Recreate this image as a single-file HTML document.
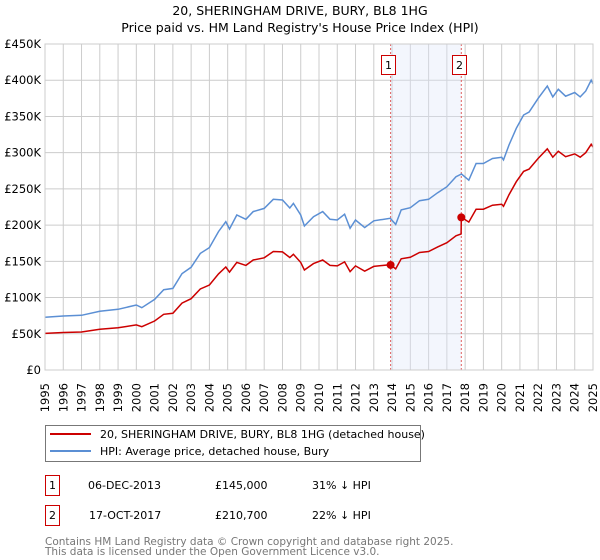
<!DOCTYPE html>
<html><head><meta charset="utf-8"><style>
body{margin:0;background:#fff;}
svg{display:block;font-family:"DejaVu Sans","Liberation Sans",sans-serif;}
</style></head><body>
<svg id="c" width="600" height="560" viewBox="0 0 600 560">
<text x="300" y="15" text-anchor="middle" font-size="12.5" fill="#000">20, SHERINGHAM DRIVE, BURY, BL8 1HG</text>
<text x="300" y="32" text-anchor="middle" font-size="12.5" fill="#000">Price paid vs. HM Land Registry's House Price Index (HPI)</text>
<g id="grid"></g><g id="shade"></g><g id="lines"></g><g id="axes"></g>
<g>
<rect x="45.5" y="425.5" width="375" height="36" fill="#fff" stroke="#777"/>
<line x1="50" y1="434" x2="91" y2="434" stroke="#cc0000" stroke-width="2"/>
<text x="100" y="438" font-size="11">20, SHERINGHAM DRIVE, BURY, BL8 1HG (detached house)</text>
<line x1="50" y1="451" x2="91" y2="451" stroke="#5b8fd4" stroke-width="2"/>
<text x="100" y="455" font-size="11">HPI: Average price, detached house, Bury</text>
</g>
<g font-size="11">
<rect x="45.5" y="475.5" width="14" height="20" fill="#fff" stroke="#cc0000"/>
<text x="52.5" y="489" text-anchor="middle">1</text>
<text x="88" y="489">06-DEC-2013</text>
<text x="215" y="489">£145,000</text>
<text x="312" y="489">31% ↓ HPI</text>
<rect x="45.5" y="505.5" width="14" height="20" fill="#fff" stroke="#cc0000"/>
<text x="52.5" y="519" text-anchor="middle">2</text>
<text x="89" y="519">17-OCT-2017</text>
<text x="215" y="519">£210,700</text>
<text x="312" y="519">22% ↓ HPI</text>
</g>
<text x="45" y="545" font-size="10.5" fill="#777">Contains HM Land Registry data © Crown copyright and database right 2025.</text>
<text x="45" y="555" font-size="10.5" fill="#777">This data is licensed under the Open Government Licence v3.0.</text>
</svg>
<script>
const hpiYears=[1995,1996,1997,1998,1999,2000,2000.3,2001,2001.5,2002,2002.5,2003,2003.5,2004,2004.5,2004.9,2005.1,2005.5,2006,2006.4,2007,2007.5,2008,2008.4,2008.6,2009,2009.2,2009.7,2010.2,2010.6,2011,2011.4,2011.7,2012,2012.5,2013,2013.9,2014.2,2014.5,2015,2015.5,2016,2016.5,2017,2017.5,2017.8,2018.2,2018.6,2019,2019.5,2020,2020.1,2020.4,2020.8,2021.2,2021.5,2022,2022.5,2022.8,2023.1,2023.5,2024,2024.3,2024.6,2024.9,2025];
const hpiValues=[72.7,74.5,75.5,81,83.8,89.7,86,97.5,110.8,112.7,133,141.7,161,169,191,204.7,194.6,214,208,218.6,223,235.6,234.7,223.6,230,214,198.8,211.6,218.6,208,207,215,195.6,207,196.5,206,209.4,201,221,224,233.7,235.6,244.8,253,266.8,270.6,262,285,285,292,293.6,290,310.6,333.6,352,356,375,392,377,387.5,378,383,377,385,400,395];
const saleYears=[2013.92,2017.79];
const salePrices=[145,210.7];
const saleLabels=["1","2"];
const yTicks=[0,50,100,150,200,250,300,350,400,450];
const yTickLabels=["£0","£50K","£100K","£150K","£200K","£250K","£300K","£350K","£400K","£450K"];
const xTicks=[1995,1996,1997,1998,1999,2000,2001,2002,2003,2004,2005,2006,2007,2008,2009,2010,2011,2012,2013,2014,2015,2016,2017,2018,2019,2020,2021,2022,2023,2024,2025];

const NS="http://www.w3.org/2000/svg";
const X0=45,X1=593,Y0=370,Y1=44;
const xs=t=>X0+(t-1995)/30*(X1-X0);
const ys=v=>Y0-v/450*(Y0-Y1);
function mk(tag,attrs,parent){const e=document.createElementNS(NS,tag);for(const k in attrs)e.setAttribute(k,attrs[k]);parent.appendChild(e);return e;}
function interp(t){for(let i=1;i<hpiYears.length;i++){if(t<=hpiYears[i]){const a=hpiYears[i-1],b=hpiYears[i];return hpiValues[i-1]+(hpiValues[i]-hpiValues[i-1])*(t-a)/(b-a);}}return hpiValues[hpiValues.length-1];}
const grid=document.getElementById('grid'),shade=document.getElementById('shade'),lines=document.getElementById('lines'),axes=document.getElementById('axes');
yTicks.forEach((v,i)=>{
 const l=mk('line',{x1:X0,x2:X1,y1:ys(v),y2:ys(v),stroke:'#cccccc','stroke-width':1},grid);
 
 
 const t=mk('text',{x:X0-4,y:ys(v)+4,'text-anchor':'end','font-size':11.5},axes);t.textContent=yTickLabels[i];
 
 
});
xTicks.forEach(yr=>{
 const l=mk('line',{x1:xs(yr),x2:xs(yr),y1:Y1,y2:Y0,stroke:'#cccccc','stroke-width':1},grid);
 
 
 const x=xs(yr)+4,y=383;
 const t=mk('text',{x:x,y:y,'text-anchor':'end','font-size':11.5,transform:`rotate(-90 ${x} ${y})`},axes);t.textContent=yr;
 
 
});
const sh=mk('rect',{x:xs(saleYears[0]),y:Y1,width:xs(saleYears[1])-xs(saleYears[0]),height:Y0-Y1,fill:'#dce6f8','fill-opacity':0.35},shade);


saleYears.forEach((sy,i)=>{
 const l=mk('line',{x1:xs(sy),x2:xs(sy),y1:Y1,y2:Y0,stroke:'#e06060','stroke-width':1,'stroke-dasharray':'2,2'},shade);
 
 
 const bx=Math.round(xs(sy)-9.5);
 const r=mk('rect',{x:bx+0.5,y:55.5,width:14,height:19,fill:'#fff',stroke:'#cc0000'},axes);
 
 
 const t=mk('text',{x:bx+7.5,y:69,'text-anchor':'middle','font-size':11},axes);t.textContent=saleLabels[i];
 
 
});
const bp=hpiYears.map((t,i)=>xs(t).toFixed(1)+','+ys(hpiValues[i]).toFixed(1)).join(' ');
const blue=mk('polyline',{points:bp,fill:'none',stroke:'#5b8fd4','stroke-width':1.5},lines);


const r1=salePrices[0]/interp(saleYears[0]),r2=salePrices[1]/interp(saleYears[1]);
const pts=[];
hpiYears.forEach((t,i)=>{
 if(t<saleYears[1]) pts.push([t,hpiValues[i]*r1]);
});
pts.push([saleYears[1]-0.01,interp(saleYears[1]-0.01)*r1]);
pts.push([saleYears[1],salePrices[1]]);
hpiYears.forEach((t,i)=>{if(t>saleYears[1]) pts.push([t,hpiValues[i]*r2]);});
const red=mk('polyline',{points:pts.map(p=>xs(p[0]).toFixed(1)+','+ys(p[1]).toFixed(1)).join(' '),fill:'none',stroke:'#cc0000','stroke-width':1.5},lines);


saleYears.forEach((sy,i)=>{
 const d=mk('circle',{cx:xs(sy),cy:ys(salePrices[i]),r:4,fill:'#cc0000'},lines);
 
 
});
const border=mk('rect',{x:X0,y:Y1,width:X1-X0,height:Y0-Y1,fill:'none',stroke:'#cccccc'},axes);


</script>
</body></html>
